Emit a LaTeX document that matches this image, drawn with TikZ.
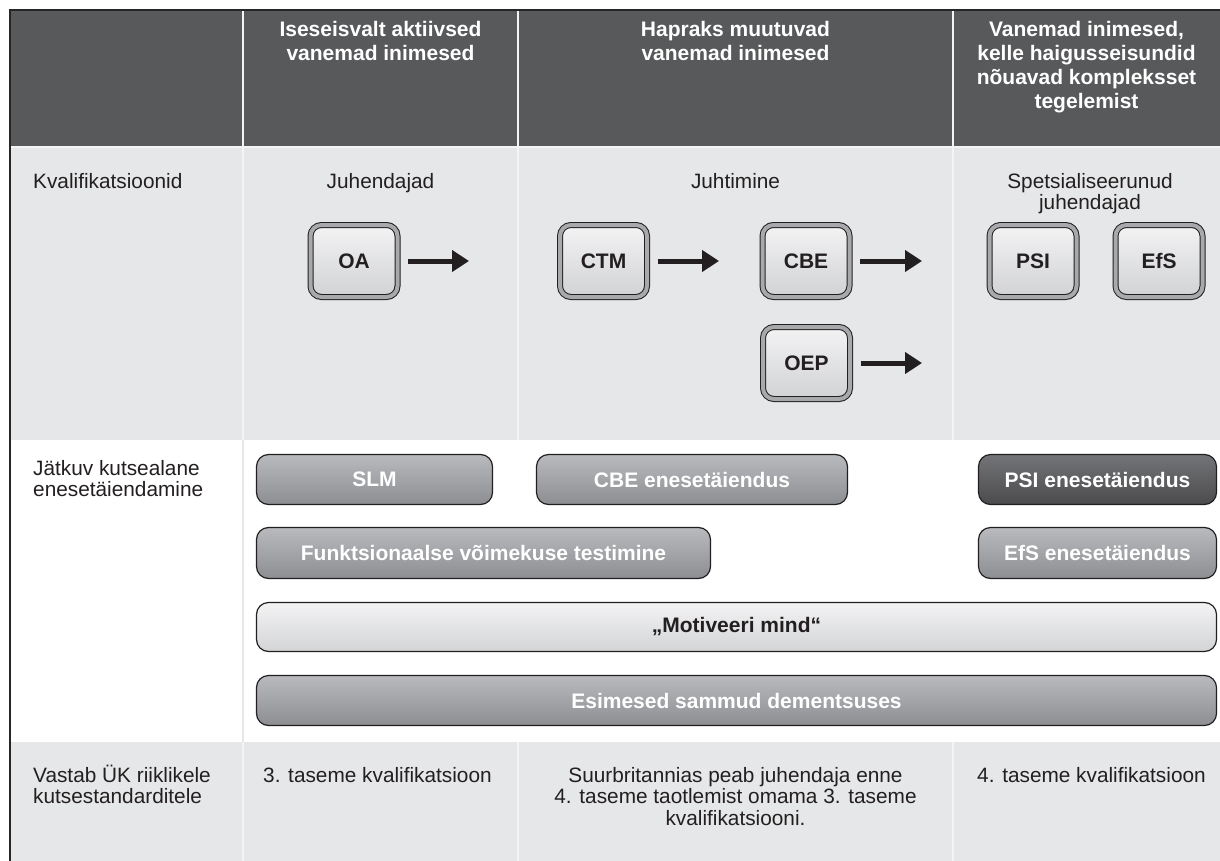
\documentclass[tikz,border=0pt]{standalone}
\usepackage{fontspec}
\setmainfont{Liberation Sans}
\usetikzlibrary{arrows.meta}
\definecolor{hdr}{HTML}{58595B}
\definecolor{lgray}{HTML}{E6E7E8}
\definecolor{ink}{HTML}{231F20}
\definecolor{sep}{HTML}{F4F4F5}
\definecolor{boxgray}{HTML}{A7A9AC}
\definecolor{boxtop}{HTML}{F3F3F4}
\definecolor{boxbot}{HTML}{D1D2D4}
\definecolor{bartop}{HTML}{B9BABD}
\definecolor{barbot}{HTML}{8C8E91}
\definecolor{darktop}{HTML}{737477}
\definecolor{darkbot}{HTML}{4B4B4D}
\definecolor{lighttop}{HTML}{F3F3F4}
\definecolor{lightbot}{HTML}{D3D4D6}
\newcommand\tstrut{\rule{0pt}{19pt}}
\tikzset{
  bodytxt/.style={inner sep=0pt, text=ink, font=\fontsize{20.8}{21.5}\selectfont},
  hdrtxt/.style={inner sep=0pt, text=white, align=center, font=\bfseries\fontsize{21}{24}\selectfont},
  qbox/.style={draw=ink, line width=1pt, double=boxgray, double distance=4pt,
    rounded corners=11pt, top color=boxtop, bottom color=boxbot,
    minimum width=87pt, minimum height=72pt, inner sep=0pt, text=ink,
    font=\bfseries\fontsize{21}{22}\selectfont},
  bar/.style={draw=ink, line width=1.2pt, rounded corners=12pt,
    top color=bartop, bottom color=barbot, inner sep=0pt, text=white,
    font=\bfseries\fontsize{21}{22}\selectfont},
  darkbar/.style={bar, top color=darktop, bottom color=darkbot},
  lightbar/.style={bar, top color=lighttop, bottom color=lightbot, text=ink},
  fatarrow/.style={draw=ink, line width=5pt, -{Triangle[length=17pt,width=21pt]}}
}
\begin{document}
\begin{tikzpicture}[x=1pt,y=-1pt]
\useasboundingbox (0,0) rectangle (1220,861);
% backgrounds
\fill[white] (0,0) rectangle (1220,861);
\fill[hdr] (10,10) rectangle (1220,147);
\fill[lgray] (10,147) rectangle (1220,440);
\fill[lgray] (10,742) rectangle (1220,861);
% separators
\draw[sep, line width=1.2pt] (10,147) -- (1220,147);
\foreach \xx in {243,518,953} {
  \draw[sep, line width=1.2pt] (\xx,10) -- (\xx,440);
  \draw[sep, line width=1.2pt] (\xx,742) -- (\xx,861);
}
\draw[lgray, line width=1.2pt] (243,440) -- (243,742);
% outer border
\draw[black!85, line width=2pt] (1220,10) -- (10,10) -- (10,861);

% header texts
\node[hdrtxt, anchor=north] (h1) at (380.5,17) {\tstrut Iseseisvalt aktiivsed\\vanemad inimesed};
\node[hdrtxt, anchor=north] (h2) at (735.5,17) {\tstrut Hapraks muutuvad\\vanemad inimesed};
\node[hdrtxt, anchor=north] (h3) at (1086.5,17) {\tstrut Vanemad inimesed,\\kelle haigusseisundid\\nõuavad kompleksset\\tegelemist};

% row 1
\node[bodytxt, anchor=north west] (r1) at (33,169) {\tstrut Kvalifikatsioonid};
\node[bodytxt, anchor=north] (c1) at (380.5,169) {\tstrut Juhendajad};
\node[bodytxt, anchor=north] (c2) at (735.5,169) {\tstrut Juhtimine};
\node[bodytxt, anchor=north, align=center] (c3) at (1090,169) {\tstrut Spetsialiseerunud\\juhendajad};

\node[qbox] (oa) at (354,261) {OA};
\node[qbox] (ctm) at (603.5,261) {CTM};
\node[qbox] (cbe) at (806,261) {CBE};
\node[qbox] (oep) at (806.5,363) {OEP};
\node[qbox] (psi) at (1033,261) {PSI};
\node[qbox] (efs) at (1159,261) {EfS};

\coordinate (oaE) at (469,261);
\coordinate (ctmE) at (719,261);
\coordinate (cbeE) at (922,261);
\coordinate (oepE) at (922,363);
\draw[fatarrow] ([xshift=10pt]oa.east) -- (oaE);
\draw[fatarrow] ([xshift=10pt]ctm.east) -- (ctmE);
\draw[fatarrow] ([xshift=10pt]cbe.east) -- (cbeE);
\draw[fatarrow] ([xshift=10pt]oep.east) -- (oepE);

% row 2
\node[bodytxt, anchor=north west, align=left] (r2) at (33,456) {\tstrut Jätkuv kutsealane\\enesetäiendamine};
\node[bar, minimum width=236pt, minimum height=50pt] (slm) at (374.5,479.5) {SLM};
\node[bar, minimum width=311pt, minimum height=50pt] (cbeb) at (692,479.5) {CBE enesetäiendus};
\node[darkbar, minimum width=238pt, minimum height=50pt] (psib) at (1097.5,479.5) {PSI enesetäiendus};
\node[bar, minimum width=454pt, minimum height=51pt] (fvt) at (483.5,553) {Funktsionaalse võimekuse testimine};
\node[bar, minimum width=238pt, minimum height=51pt] (efsb) at (1097.5,553) {EfS enesetäiendus};
\node[lightbar, minimum width=960pt, minimum height=49pt] (mm) at (736.5,627) {„Motiveeri mind“};
\node[bar, minimum width=960pt, minimum height=50pt] (esd) at (736.5,700.5) {Esimesed sammud dementsuses};

% row 3
\node[bodytxt, anchor=north west, align=left] (r3) at (33,763) {\tstrut Vastab ÜK riiklikele\\kutsestandarditele};
\node[bodytxt, anchor=north west] (t1) at (263,763) {\tstrut 3. taseme kvalifikatsioon};
\node[bodytxt, anchor=north, align=center] (t2) at (735.5,763) {\tstrut Suurbritannias peab juhendaja enne\\4. taseme taotlemist omama 3. taseme\\kvalifikatsiooni.};
\node[bodytxt, anchor=north west] (t3) at (977,763) {\tstrut 4. taseme kvalifikatsioon};
\end{tikzpicture}
\end{document}
